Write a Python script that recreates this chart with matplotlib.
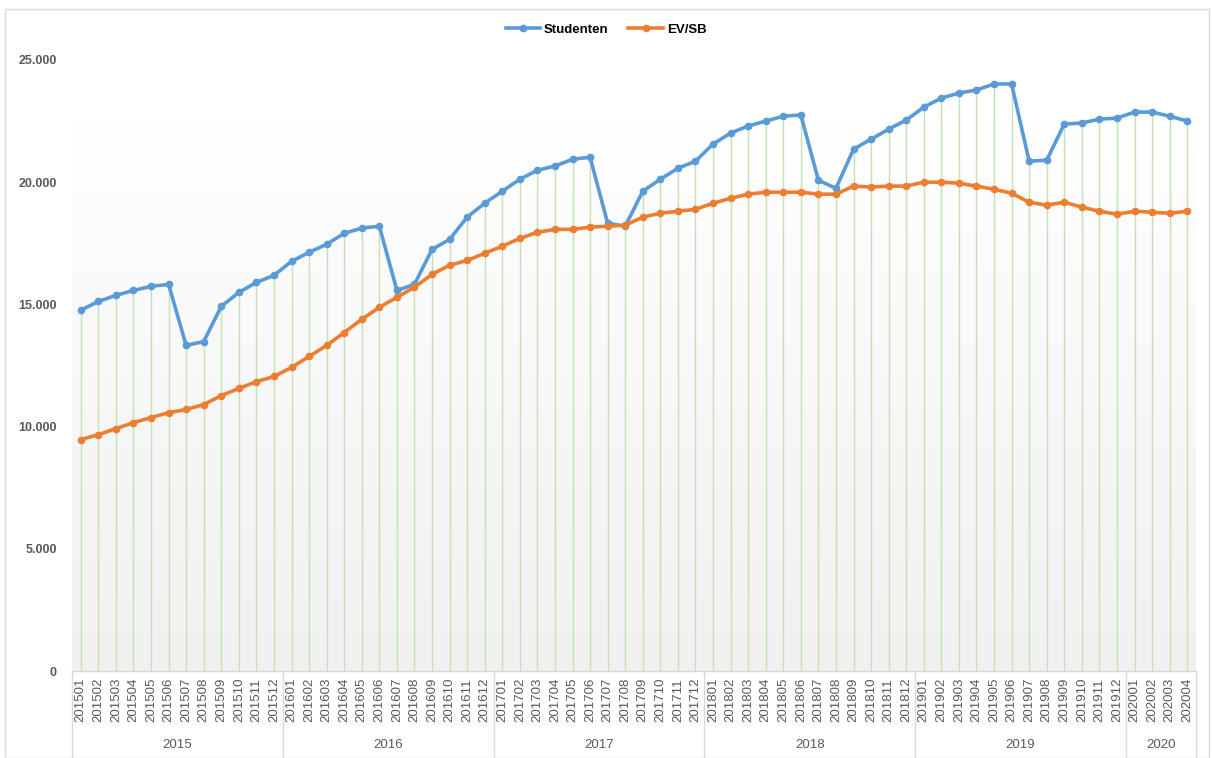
import matplotlib
matplotlib.use("Agg")
import matplotlib.pyplot as plt
import matplotlib.transforms as mtransforms
from matplotlib.patches import Rectangle
from matplotlib.lines import Line2D
import numpy as np

months = [f"{y}{m:02d}" for y in range(2015, 2020) for m in range(1, 13)] + ["202001", "202002", "202003", "202004"]
years = ["2015", "2016", "2017", "2018", "2019", "2020"]

studenten = [14760, 15120, 15370, 15570, 15740, 15820, 13320, 13480, 14920, 15490, 15900, 16190,
             16760, 17130, 17460, 17910, 18120, 18200, 15570, 15820, 17250, 17660, 18570, 19140,
             19630, 20120, 20490, 20660, 20940, 21020, 18320, 18200, 19630, 20120, 20570, 20860,
             21560, 22010, 22300, 22500, 22700, 22750, 20080, 19750, 21350, 21760, 22170, 22540,
             23070, 23440, 23650, 23770, 24020, 24020, 20860, 20900, 22380, 22420, 22580, 22620,
             22870, 22870, 22700, 22500]
evsb = [9470, 9670, 9920, 10160, 10370, 10570, 10700, 10900, 11270, 11560, 11840, 12050,
        12420, 12870, 13320, 13850, 14390, 14880, 15290, 15700, 16230, 16600, 16800, 17090,
        17380, 17700, 17950, 18070, 18070, 18160, 18200, 18240, 18570, 18730, 18810, 18890,
        19140, 19340, 19510, 19590, 19590, 19590, 19510, 19510, 19840, 19800, 19840, 19840,
        20000, 20000, 19960, 19840, 19710, 19550, 19180, 19060, 19180, 18980, 18810, 18690,
        18810, 18770, 18730, 18810]

W, H = 1212, 758
fig = plt.figure(figsize=(W / 100, H / 100), dpi=100)
fig.patch.set_facecolor("white")
fig.patches.append(Rectangle((5 / W, 0.5 / H), (W - 8) / W, (H - 9) / H, transform=fig.transFigure,
                             fill=False, edgecolor="#d9d9d9", lw=1))

left, right, top, bottom = 72, 1196, 60, 671
ax = fig.add_axes([left / W, (H - bottom) / H, (right - left) / W, (bottom - top) / H])
ax.set_facecolor("none")

x = np.arange(len(months))
ax.set_xlim(-0.5, len(months) - 0.5)
ax.set_ylim(0, 25000)

# background gradient
grad = np.linspace(0, 1, 256).reshape(-1, 1)
cols = np.ones((256, 1, 3))
topc = np.array([1.0, 1.0, 1.0])
botc = np.array([0xf0, 0xf0, 0xf0]) / 255
for i, g in enumerate(grad[:, 0]):
    t = min(1.0, g / 0.9)
    cols[i, 0] = botc * (1 - t) + topc * t
ax.imshow(cols, extent=[0, 1, 0, 1], transform=ax.transAxes, aspect="auto", origin="lower", zorder=0)

ax.vlines(x, 0, studenten, color="#c5e0b4", lw=1, zorder=1)
ax.plot(x, studenten, color="#5B9BD5", lw=2.6, marker="o", ms=4.5, zorder=3)
ax.plot(x, evsb, color="#ED7D31", lw=2.6, marker="o", ms=4.5, zorder=3)

for s in ["top", "right", "left"]:
    ax.spines[s].set_visible(False)
ax.spines["bottom"].set_color("#d9d9d9")
ax.spines["bottom"].set_linewidth(1)

yt = [0, 5000, 10000, 15000, 20000, 25000]
ax.set_yticks(yt)
ax.set_yticklabels([f"{v:,}".replace(",", ".") for v in yt], fontfamily="Liberation Sans",
                   fontweight="bold", fontsize=9, color="#595959")
ax.tick_params(axis="y", length=0, pad=11)

ax.set_xticks(x)
ax.set_xticklabels(months, rotation=90, fontfamily="Liberation Sans", fontsize=9.5, color="#595959")
ax.tick_params(axis="x", length=0, pad=5)

trans = mtransforms.blended_transform_factory(ax.transData, ax.transAxes)
ah = bottom - top
yl = -(757 - bottom) / ah
ylab = -(745 - bottom) / ah
bounds = [-0.5, 11.5, 23.5, 35.5, 47.5, 59.5, 63.5]
for b in bounds:
    ax.add_line(Line2D([b, b], [0, yl], transform=trans, color="#d9d9d9", lw=1, clip_on=False))
for i, yr in enumerate(years):
    c = (bounds[i] + bounds[i + 1]) / 2
    ax.text(c, ylab, yr, transform=trans, ha="center", va="center", fontfamily="Liberation Sans",
            fontsize=9.5, color="#595959")

handles = [Line2D([], [], color="#5B9BD5", lw=2.6, marker="o", ms=4.5),
           Line2D([], [], color="#ED7D31", lw=2.6, marker="o", ms=4.5)]
leg = fig.legend(handles, ["Studenten", "EV/SB"], loc="center", bbox_to_anchor=(0.5, 1 - 30 / H),
                 ncol=2, frameon=False, handlelength=2.6, columnspacing=1.5, handletextpad=0.3,
                 prop={"family": "Liberation Sans", "weight": "bold", "size": 9.5})

fig.savefig("out.png", dpi=100)
